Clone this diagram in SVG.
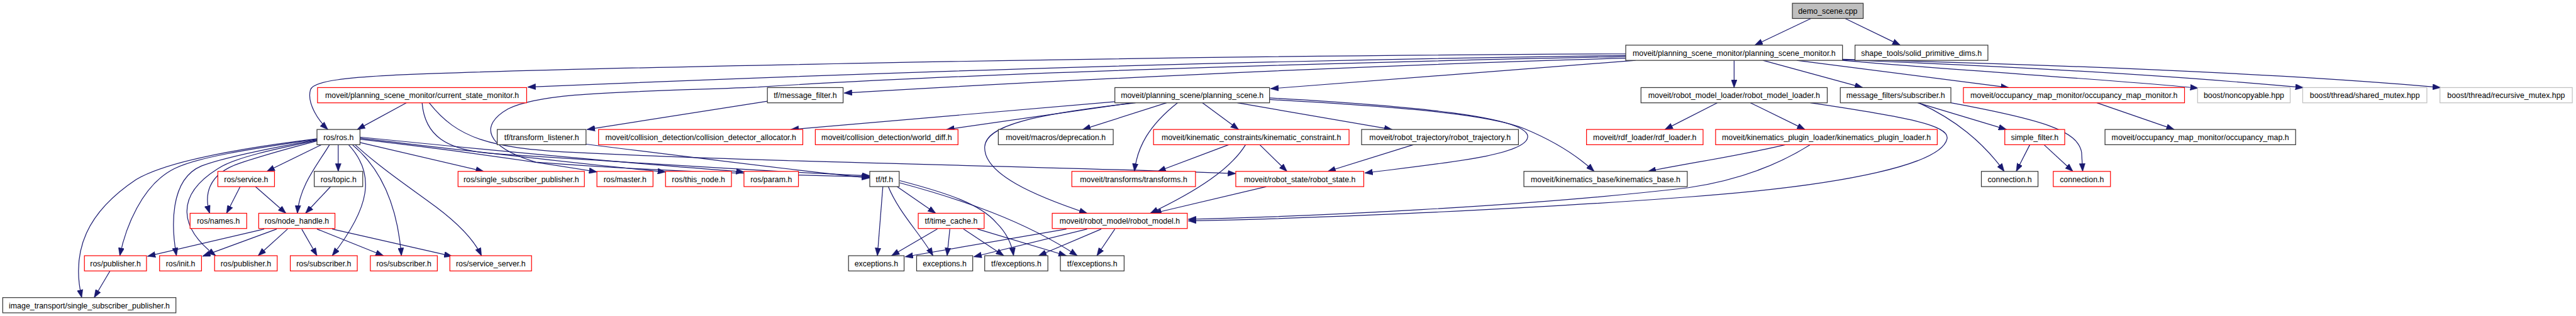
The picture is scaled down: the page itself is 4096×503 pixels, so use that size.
<svg xmlns="http://www.w3.org/2000/svg" width="4096" height="503" viewBox="0 0 4096 503">
<style>
.n rect{fill:#fff;stroke-width:1.4}
.k rect{stroke:#333}
.r rect{stroke:#f00}
.g rect{stroke:#bfbfbf}
.root rect{fill:#bfbfbf;stroke:#333}
text{font-family:"Liberation Sans",Arial,sans-serif;font-size:14.3px;text-anchor:middle;fill:#000}
#edges path{fill:none;stroke:#191970;stroke-width:1.4;marker-end:url(#arr)}
</style>
<defs>
<marker id="arr" markerUnits="userSpaceOnUse" markerWidth="15" markerHeight="11" viewBox="0 0 15 11" refX="14.5" refY="5.5" orient="auto">
<path d="M0,0 L15,5.5 L0,11 z" fill="#191970" stroke="#191970" stroke-width="0.5"/>
</marker>
</defs>
<rect width="4096" height="503" fill="#fff"/>
<g transform="scale(0.866)">
<g id="edges">
<path d="M3325,34 L3222,83"/>
<path d="M3388,34 L3489,83"/>
<path d="M2985,99 C2000,103 1000,128 800,135 C620,141 575,150 570,165 C563,190 585,222 602,238"/>
<path d="M2985,102 C2200,112 1500,138 969,160"/>
<path d="M2985,104 C2300,118 1700,140 1392,160 C1150,170 1000,168 933,200 C880,230 890,270 984,298 C1200,315 1450,322 1597,325"/>
<path d="M2985,107 C2500,120 1900,150 1550,171"/>
<path d="M3003,111 C2700,135 2500,150 2333,163"/>
<path d="M3184,111 L3184,161"/>
<path d="M3237,111 L3420,161"/>
<path d="M3299,111 L3688,161"/>
<path d="M3383,111 C3600,130 3900,148 4036,162"/>
<path d="M3383,110 C3700,122 4000,140 4229,161"/>
<path d="M3383,109 C3750,118 4200,135 4481,161"/>
<path d="M746,189 L656,238"/>
<path d="M775,189 C780,250 820,275 900,282 C1100,295 1450,318 1597,323"/>
<path d="M788,189 C840,255 900,272 1050,280 C1400,298 1900,305 2269,319"/>
<path d="M1409,186 L1078,238"/>
<path d="M1076,265 C1300,293 1500,318 1597,327"/>
<path d="M2047,187 L1452,238"/>
<path d="M2080,189 L1738,238"/>
<path d="M2142,189 L1988,238"/>
<path d="M2208,189 L2274,238"/>
<path d="M2272,189 L2556,238"/>
<path d="M2085,189 C1900,210 1810,230 1808,270 C1806,320 1900,360 1996,392"/>
<path d="M2162,189 C2110,230 2088,270 2083,315"/>
<path d="M2331,180 C2600,195 2800,215 2805,250 C2808,285 2650,300 2506,318"/>
<path d="M2331,183 C2600,198 2740,212 2800,237 C2860,262 2900,290 2927,315"/>
<path d="M2256,266 L2126,315"/>
<path d="M2287,266 C2260,310 2200,350 2112,392"/>
<path d="M2313,266 L2363,315"/>
<path d="M2595,266 L2438,315"/>
<path d="M2325,343 L2118,392"/>
<path d="M3153,189 L3057,238"/>
<path d="M3214,189 L3314,238"/>
<path d="M3324,189 C3500,215 3580,230 3575,255 C3565,300 3400,340 3100,362 C2800,385 2400,402 2182,406"/>
<path d="M3324,266 C3270,300 3200,330 3100,345 C2800,380 2400,398 2182,403"/>
<path d="M3278,266 C3200,285 3100,300 3026,315"/>
<path d="M3521,189 L3684,238"/>
<path d="M3523,189 C3590,220 3640,260 3680,315"/>
<path d="M3582,189 C3750,220 3815,240 3822,280 L3824,315"/>
<path d="M3727,266 L3702,315"/>
<path d="M3753,266 L3806,315"/>
<path d="M3850,189 L3992,238"/>
<path d="M582,255 C420,275 300,300 250,330 C160,390 130,460 150,547"/>
<path d="M582,256 C450,275 360,290 320,310 C260,340 230,420 220,470"/>
<path d="M582,257 C480,275 410,290 370,305 C310,330 315,420 324,470"/>
<path d="M582,258 C500,275 430,290 400,310 C320,360 330,420 396,470"/>
<path d="M582,259 C520,275 470,290 440,300 C380,320 375,360 385,392"/>
<path d="M590,266 L490,315"/>
<path d="M605,266 C585,300 550,340 546,392"/>
<path d="M621,266 L621,315"/>
<path d="M640,266 C690,320 680,380 610,470"/>
<path d="M647,266 C700,310 730,380 737,470"/>
<path d="M652,266 C700,310 760,350 800,380 C840,410 870,440 884,470"/>
<path d="M661,262 L888,315"/>
<path d="M661,256 C800,272 950,292 1096,316"/>
<path d="M661,254 C850,276 1050,300 1222,316"/>
<path d="M661,252 C900,276 1150,300 1366,316"/>
<path d="M485,421 L271,471"/>
<path d="M508,421 L372,471"/>
<path d="M528,421 L474,470"/>
<path d="M554,421 L582,470"/>
<path d="M582,421 L704,470"/>
<path d="M610,421 L830,471"/>
<path d="M441,343 L416,392"/>
<path d="M469,343 L525,392"/>
<path d="M607,343 L561,392"/>
<path d="M202,498 L173,547"/>
<path d="M1621,343 L1611,470"/>
<path d="M1631,343 C1650,390 1690,430 1713,470"/>
<path d="M1647,343 L1718,392"/>
<path d="M1652,332 C1740,355 1800,375 1830,410 C1850,430 1858,450 1861,470"/>
<path d="M1652,336 C1760,365 1880,405 1978,470"/>
<path d="M1721,421 L1637,470"/>
<path d="M1744,421 L1739,470"/>
<path d="M1769,421 L1843,470"/>
<path d="M1795,421 L1958,470"/>
<path d="M1958,421 L1662,472"/>
<path d="M1996,421 L1788,472"/>
<path d="M2022,421 L1907,470"/>
<path d="M2047,421 L2014,470"/>
</g>
<g id="n0" class="n root"><rect x="3291" y="6" width="130" height="28"/><text x="3356" y="25.5">demo_scene.cpp</text></g>
<g id="n1" class="n k"><rect x="2985" y="83" width="398" height="28"/><text x="3184" y="102.5">moveit/planning_scene_monitor/planning_scene_monitor.h</text></g>
<g id="n2" class="n k"><rect x="3406" y="83" width="244" height="28"/><text x="3528" y="102.5">shape_tools/solid_primitive_dims.h</text></g>
<g id="n3" class="n r"><rect x="583" y="161" width="384" height="28"/><text x="775" y="180.5">moveit/planning_scene_monitor/current_state_monitor.h</text></g>
<g id="n4" class="n k"><rect x="1409" y="161" width="139" height="28"/><text x="1478.5" y="180.5">tf/message_filter.h</text></g>
<g id="n5" class="n k"><rect x="2047" y="161" width="284" height="28"/><text x="2189" y="180.5">moveit/planning_scene/planning_scene.h</text></g>
<g id="n6" class="n k"><rect x="3013" y="161" width="342" height="28"/><text x="3184" y="180.5">moveit/robot_model_loader/robot_model_loader.h</text></g>
<g id="n7" class="n k"><rect x="3379" y="161" width="203" height="28"/><text x="3480.5" y="180.5">message_filters/subscriber.h</text></g>
<g id="n8" class="n r"><rect x="3605" y="161" width="406" height="28"/><text x="3808" y="180.5">moveit/occupancy_map_monitor/occupancy_map_monitor.h</text></g>
<g id="n9" class="n g"><rect x="4035" y="161" width="170" height="28"/><text x="4120" y="180.5">boost/noncopyable.hpp</text></g>
<g id="n10" class="n g"><rect x="4228" y="161" width="228" height="28"/><text x="4342" y="180.5">boost/thread/shared_mutex.hpp</text></g>
<g id="n11" class="n g"><rect x="4480" y="161" width="243" height="28"/><text x="4601.5" y="180.5">boost/thread/recursive_mutex.hpp</text></g>
<g id="n12" class="n k"><rect x="582" y="238" width="79" height="28"/><text x="621.5" y="257.5">ros/ros.h</text></g>
<g id="n13" class="n k"><rect x="913" y="238" width="163" height="28"/><text x="994.5" y="257.5">tf/transform_listener.h</text></g>
<g id="n14" class="n r"><rect x="1099" y="238" width="375" height="28"/><text x="1286.5" y="257.5">moveit/collision_detection/collision_detector_allocator.h</text></g>
<g id="n15" class="n r"><rect x="1497" y="238" width="262" height="28"/><text x="1628" y="257.5">moveit/collision_detection/world_diff.h</text></g>
<g id="n16" class="n k"><rect x="1833" y="238" width="211" height="28"/><text x="1938.5" y="257.5">moveit/macros/deprecation.h</text></g>
<g id="n17" class="n r"><rect x="2118" y="238" width="359" height="28"/><text x="2297.5" y="257.5">moveit/kinematic_constraints/kinematic_constraint.h</text></g>
<g id="n18" class="n k"><rect x="2500" y="238" width="288" height="28"/><text x="2644" y="257.5">moveit/robot_trajectory/robot_trajectory.h</text></g>
<g id="n19" class="n r"><rect x="2913" y="238" width="214" height="28"/><text x="3020" y="257.5">moveit/rdf_loader/rdf_loader.h</text></g>
<g id="n20" class="n r"><rect x="3150" y="238" width="407" height="28"/><text x="3353.5" y="257.5">moveit/kinematics_plugin_loader/kinematics_plugin_loader.h</text></g>
<g id="n21" class="n r"><rect x="3681" y="238" width="110" height="28"/><text x="3736" y="257.5">simple_filter.h</text></g>
<g id="n22" class="n k"><rect x="3865" y="238" width="350" height="28"/><text x="4040" y="257.5">moveit/occupancy_map_monitor/occupancy_map.h</text></g>
<g id="n23" class="n r"><rect x="400" y="315" width="104" height="28"/><text x="452" y="334.5">ros/service.h</text></g>
<g id="n24" class="n k"><rect x="577" y="315" width="89" height="28"/><text x="621.5" y="334.5">ros/topic.h</text></g>
<g id="n25" class="n r"><rect x="841" y="315" width="232" height="28"/><text x="957" y="334.5">ros/single_subscriber_publisher.h</text></g>
<g id="n26" class="n r"><rect x="1096" y="315" width="103" height="28"/><text x="1147.5" y="334.5">ros/master.h</text></g>
<g id="n27" class="n r"><rect x="1222" y="315" width="121" height="28"/><text x="1282.5" y="334.5">ros/this_node.h</text></g>
<g id="n28" class="n r"><rect x="1366" y="315" width="100" height="28"/><text x="1416" y="334.5">ros/param.h</text></g>
<g id="n29" class="n k"><rect x="1597" y="315" width="54" height="28"/><text x="1624" y="334.5">tf/tf.h</text></g>
<g id="n30" class="n r"><rect x="1968" y="315" width="227" height="28"/><text x="2081.5" y="334.5">moveit/transforms/transforms.h</text></g>
<g id="n31" class="n r"><rect x="2269" y="315" width="235" height="28"/><text x="2386.5" y="334.5">moveit/robot_state/robot_state.h</text></g>
<g id="n32" class="n k"><rect x="2798" y="315" width="300" height="28"/><text x="2948" y="334.5">moveit/kinematics_base/kinematics_base.h</text></g>
<g id="n33" class="n k"><rect x="3638" y="315" width="104" height="28"/><text x="3690" y="334.5">connection.h</text></g>
<g id="n34" class="n r"><rect x="3770" y="315" width="105" height="28"/><text x="3822.5" y="334.5">connection.h</text></g>
<g id="n35" class="n r"><rect x="349" y="392" width="104" height="28"/><text x="401" y="411.5">ros/names.h</text></g>
<g id="n36" class="n r"><rect x="475" y="392" width="140" height="28"/><text x="545" y="411.5">ros/node_handle.h</text></g>
<g id="n37" class="n r"><rect x="1686" y="392" width="121" height="28"/><text x="1746.5" y="411.5">tf/time_cache.h</text></g>
<g id="n38" class="n r"><rect x="1932" y="392" width="248" height="28"/><text x="2056" y="411.5">moveit/robot_model/robot_model.h</text></g>
<g id="n39" class="n r"><rect x="155" y="470" width="114" height="28"/><text x="212" y="489.5">ros/publisher.h</text></g>
<g id="n40" class="n r"><rect x="293" y="470" width="77" height="28"/><text x="331.5" y="489.5">ros/init.h</text></g>
<g id="n41" class="n r"><rect x="394" y="470" width="115" height="28"/><text x="451.5" y="489.5">ros/publisher.h</text></g>
<g id="n42" class="n r"><rect x="533" y="470" width="123" height="28"/><text x="594.5" y="489.5">ros/subscriber.h</text></g>
<g id="n43" class="n r"><rect x="680" y="470" width="123" height="28"/><text x="741.5" y="489.5">ros/subscriber.h</text></g>
<g id="n44" class="n r"><rect x="826" y="470" width="150" height="28"/><text x="901" y="489.5">ros/service_server.h</text></g>
<g id="n45" class="n k"><rect x="1558" y="470" width="102" height="28"/><text x="1609" y="489.5">exceptions.h</text></g>
<g id="n46" class="n k"><rect x="1683" y="470" width="103" height="28"/><text x="1734.5" y="489.5">exceptions.h</text></g>
<g id="n47" class="n k"><rect x="1808" y="470" width="116" height="28"/><text x="1866" y="489.5">tf/exceptions.h</text></g>
<g id="n48" class="n k"><rect x="1947" y="470" width="117" height="28"/><text x="2005.5" y="489.5">tf/exceptions.h</text></g>
<g id="n49" class="n k"><rect x="5" y="547" width="318" height="28"/><text x="164" y="566.5">image_transport/single_subscriber_publisher.h</text></g>
</g>
</svg>
